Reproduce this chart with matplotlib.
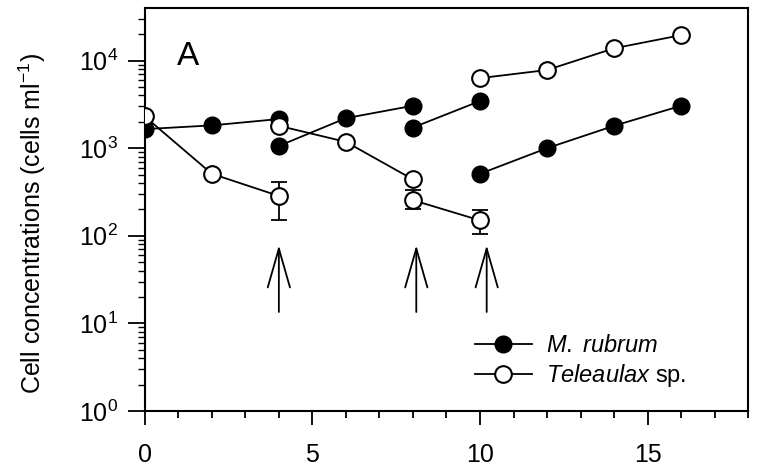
import matplotlib

matplotlib.use("Agg")
import matplotlib.pyplot as plt
import numpy as np
from matplotlib.lines import Line2D
from matplotlib.ticker import LogLocator, FixedLocator, NullFormatter

plt.rcParams['font.family'] = ['Liberation Sans', 'DejaVu Sans']
plt.rcParams['mathtext.fontset'] = 'custom'
plt.rcParams['mathtext.rm'] = 'Liberation Sans'
plt.rcParams['mathtext.it'] = 'Liberation Sans:italic'

# Données (NaN = coupure après chaque ajout de proies)
jours_rubrum = [0, 2, 4, np.nan, 4, 6, 8, np.nan, 8, 10, np.nan, 10, 12, 14, 16]
m_rubrum = [1650, 1820, 2150, np.nan, 1060, 2200, 3050, np.nan, 1720, 3450, np.nan, 510, 1000, 1800, 3050]

jours_tele = [0, 2, 4, np.nan, 4, 6, 8, np.nan, 8, 10, np.nan, 10, 12, 14, 16]
teleaulax = [2300, 510, 285, np.nan, 1800, 1180, 440, np.nan, 255, 150, np.nan, 6300, 7800, 13800, 19500]

# barres d'erreur (jour, valeur, bas, haut)
err_jours = [4, 8, 10]
err_val = [285, 255, 150]
err_bas = [150, 200, 104]
err_haut = [410, 330, 195]

# flèches : ajouts de proies
fleche_jours = [4, 8.1, 10.2]
fleche_bas = 13.5
fleche_haut = 78

fig = plt.figure(figsize=(7.58, 4.70), dpi=100)
ax = fig.add_axes([0.191, 0.1255, 0.796, 0.8575])

# erreurs d'abord (sous les marqueurs)
ax.errorbar(err_jours, err_val,
            yerr=[np.array(err_val) - np.array(err_bas), np.array(err_haut) - np.array(err_val)],
            fmt='none', ecolor='black', elinewidth=1.3, capsize=6, capthick=1.3, zorder=2)

ax.plot(jours_rubrum, m_rubrum, '-o', color='black', markerfacecolor='black',
        markeredgecolor='black', markersize=12, linewidth=1.3, zorder=3)
ax.plot(jours_tele, teleaulax, '-o', color='black', markerfacecolor='white',
        markeredgecolor='black', markeredgewidth=1.5, markersize=12, linewidth=1.3, zorder=4)

for j in fleche_jours:
    ax.annotate('', xy=(j, fleche_haut), xytext=(j, fleche_bas),
                arrowprops=dict(arrowstyle='->,head_length=2.8,head_width=0.8',
                                color='black', lw=1.3, shrinkA=0, shrinkB=0,
                                mutation_scale=10))

ax.set_yscale('log')
ax.set_xlim(0, 18)
ax.set_ylim(1, 10 ** 4.6)

ax.xaxis.set_major_locator(FixedLocator([0, 5, 10, 15]))
ax.xaxis.set_minor_locator(FixedLocator([1, 2, 3, 4, 6, 7, 8, 9, 11, 12, 13, 14, 16, 17, 18]))
ax.set_xticklabels(['0', '5', '10', '15'])

ax.yaxis.set_major_locator(FixedLocator([1, 10, 100, 1000, 10000]))
ax.set_yticklabels(['10$^{0}$', '10$^{1}$', '10$^{2}$', '10$^{3}$', '10$^{4}$'])
ax.yaxis.set_minor_locator(LogLocator(base=10, subs=np.arange(2, 10), numticks=20))
ax.yaxis.set_minor_formatter(NullFormatter())

ax.tick_params(axis='x', which='major', direction='out', length=10, width=1.3, pad=13, labelsize=18)
ax.tick_params(axis='x', which='minor', direction='out', length=5, width=1.3)
ax.tick_params(axis='y', which='major', direction='out', length=12, width=1.3, pad=7, labelsize=18)
ax.tick_params(axis='y', which='minor', direction='out', length=5, width=1.0)

for s in ax.spines.values():
    s.set_linewidth(1.5)

ax.set_ylabel('Cell concentrations (cells ml$^{-1}$)', fontsize=18)
ax.yaxis.set_label_coords(-0.16, 0.465)

ax.text(0.95, 9000, 'A', fontsize=24)

poignees = [
    Line2D([], [], color='black', marker='o', markerfacecolor='black', markersize=12, linewidth=1.3),
    Line2D([], [], color='black', marker='o', markerfacecolor='white', markeredgewidth=1.5,
           markersize=12, linewidth=1.3),
]
ax.legend(poignees, ['$\\it{M.}$ $\\it{rubrum}$', '$\\it{Teleaulax}$ sp.'], loc='lower left',
          bbox_to_anchor=(0.528, 0.025), frameon=False, fontsize=17, handlelength=2.4,
          handletextpad=0.6, labelspacing=0.2, borderpad=0)

fig.savefig('out.png', dpi=100)
